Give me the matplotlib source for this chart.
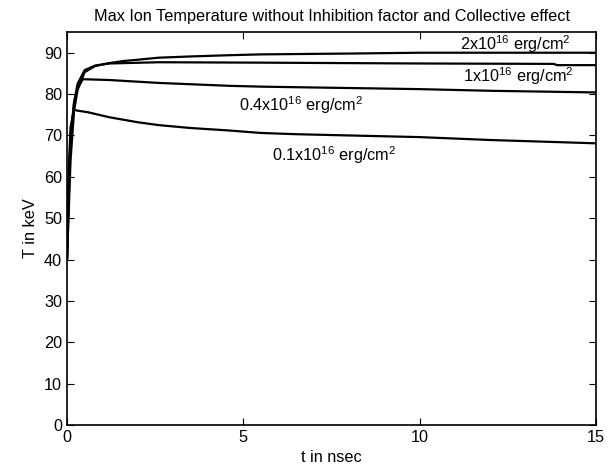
import matplotlib
matplotlib.use("Agg")
import matplotlib.pyplot as plt

# time (nsec) and max ion temperature (keV) for each flux
t01 = [0, 0.05, 0.1, 0.2, 0.3, 0.6, 0.9, 1.2, 1.6, 2.0, 2.6, 3.5, 4.6, 5.5, 6.5, 8, 10, 12, 15]
T01 = [40, 62, 72, 76.2, 76.0, 75.6, 75.0, 74.4, 73.8, 73.2, 72.5, 71.8, 71.2, 70.6, 70.3,
       70.0, 69.6, 68.9, 68.1]

t04 = [0, 0.05, 0.1, 0.2, 0.3, 0.45, 1.2, 2.6, 4.6, 5.5, 10, 12, 15]
T04 = [40, 58, 70, 78, 81.5, 83.6, 83.4, 82.7, 82.0, 81.8, 81.2, 80.8, 80.4]

t1 = [0, 0.05, 0.1, 0.2, 0.3, 0.5, 0.8, 1.2, 2.6, 5.5, 10, 13.8, 13.9, 15]
T1 = [40, 55, 68, 78, 82.5, 85.8, 86.9, 87.4, 87.7, 87.6, 87.4, 87.3, 87.0, 87.0]

t2 = [0, 0.05, 0.1, 0.2, 0.3, 0.5, 0.8, 1.2, 1.6, 2, 2.6, 3.5, 4.6, 5.5, 8, 10, 15]
T2 = [40, 52, 64, 76, 81, 85.3, 86.8, 87.5, 88.0, 88.3, 88.8, 89.1, 89.4, 89.6, 89.8,
      90.0, 90.0]

series = [(t01, T01), (t04, T04), (t1, T1), (t2, T2)]
labels = [r"0.1x10$^{16}$ erg/cm$^2$", r"0.4x10$^{16}$ erg/cm$^2$",
          r"1x10$^{16}$ erg/cm$^2$", r"2x10$^{16}$ erg/cm$^2$"]
label_pos = [(7.57, 65.3), (6.63, 77.4), (12.8, 84.4), (12.7, 92.0)]

plt.rcParams["font.family"] = ["Liberation Sans", "DejaVu Sans"]
plt.rcParams["mathtext.fontset"] = "custom"
plt.rcParams["mathtext.rm"] = "Liberation Sans"

FS = 11.7
fig = plt.figure(figsize=(6.16, 4.72), dpi=100)
ax = fig.add_axes([0.1088, 0.0996, 0.8587, 0.8325])
for t, T in series:
    ax.plot(t, T, color="black", lw=1.6)
for txt, (x, y) in zip(labels, label_pos):
    ax.text(x, y, txt, ha="center", va="center", fontsize=FS)

ax.set_xlim(0, 15)
ax.set_ylim(0, 95)
ax.set_xticks([0, 5, 10, 15])
ax.set_yticks(range(0, 91, 10))
ax.tick_params(direction="in", top=True, right=True, labelsize=FS, length=5)
for s in ax.spines.values():
    s.set_linewidth(1.2)
ax.set_xlabel("t in nsec", fontsize=FS)
ax.set_ylabel("T in keV", fontsize=FS)
ax.set_title("Max Ion Temperature without Inhibition factor and Collective effect",
             fontsize=FS, pad=8)

fig.savefig("out.png", dpi=100)
